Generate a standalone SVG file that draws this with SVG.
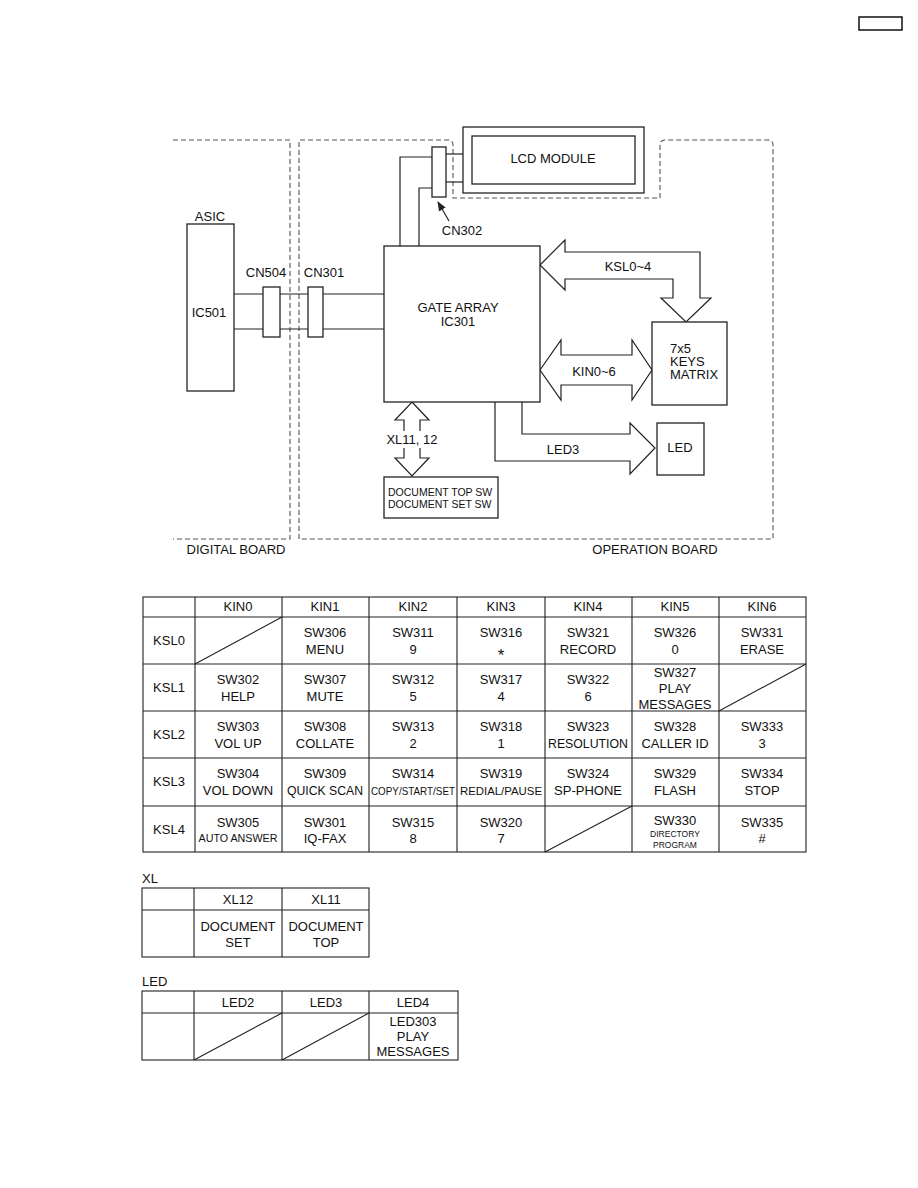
<svg xmlns="http://www.w3.org/2000/svg" width="918" height="1188" viewBox="0 0 918 1188">
<style>
text{font-family:"Liberation Sans",Arial,sans-serif;fill:#111;font-size:13px}
.c{text-anchor:middle}
.s{font-size:10.5px}
.xs{font-size:8.5px}
.box{fill:#fff;stroke:#222;stroke-width:1.3}
.ln{fill:none;stroke:#222;stroke-width:1.2}
.dash{fill:none;stroke:#555;stroke-width:1.1;stroke-dasharray:5,3}
.arr{fill:#fff;stroke:#222;stroke-width:1.2;stroke-linejoin:miter}
.grid{fill:none;stroke:#222;stroke-width:1.1}
</style>
<defs>
<marker id="ah" viewBox="0 0 10 10" refX="9" refY="5" markerWidth="8" markerHeight="8" orient="auto">
<path d="M0,1 L10,5 L0,9 Z" fill="#222"/>
</marker>
</defs>
<rect width="918" height="1188" fill="#fff"/>
<rect x="859" y="17" width="43" height="13" fill="none" stroke="#111" stroke-width="1.5"/>

<g id="boards">
<path class="dash" d="M173,140 H290 V539 H173"/>
<path class="dash" d="M299,539 V140 H448 Q453,140 453,145 V198 H660 V145 Q660,140 665,140 H768 Q773,140 773,145 V539 Z"/>
<text x="236" y="554" class="c">DIGITAL BOARD</text>
<text x="655" y="554" class="c">OPERATION BOARD</text>
</g>

<g id="connectors">
<line class="ln" x1="234" y1="294" x2="384" y2="294"/>
<line class="ln" x1="234" y1="329" x2="384" y2="329"/>
<polyline class="ln" points="400,246 400,157 432,157"/>
<polyline class="ln" points="419,246 419,188 432,188"/>
<line class="ln" x1="446" y1="154" x2="463" y2="154"/>
<line class="ln" x1="446" y1="182" x2="463" y2="182"/>
<line class="ln" x1="449" y1="221" x2="438" y2="202" marker-end="url(#ah)"/>
<path class="arr" d="M540,265 L565,240 V252 H700 V298 H711 L686,322 L661,298 H673 V279 H565 V290 Z"/>
<text x="628" y="271" class="c">KSL0~4</text>
<path class="arr" d="M540,370 L561,340 V355 H632 V340 L652,370 L632,400 V385 H561 V400 Z"/>
<text x="594" y="376" class="c">KIN0~6</text>
<path class="arr" d="M522,402 V434 H630 V423 L655,448 L630,474 V461 H495 V402"/>
<text x="563" y="454" class="c">LED3</text>
<path class="arr" d="M412,402 L429,420 H420 V458 H429 L412,476 L395,458 H404 V420 H395 Z"/>
<rect x="392" y="431" width="42" height="17" fill="#fff"/>
<text x="412" y="444" class="c">XL11, 12</text>
</g>

<g id="asic">
<text x="210" y="221" class="c">ASIC</text>
<rect class="box" x="187" y="224" width="47" height="167"/>
<text x="209" y="317" class="c">IC501</text>
</g>
<g id="cn504">
<rect class="box" x="263" y="287" width="17" height="50"/>
<text x="266" y="277" class="c">CN504</text>
</g>
<g id="cn301">
<rect class="box" x="308" y="287" width="15" height="50"/>
<text x="324" y="277" class="c">CN301</text>
</g>
<g id="cn302">
<rect class="box" x="432" y="147" width="14" height="50"/>
<text x="462" y="235" class="c">CN302</text>
</g>
<g id="lcd">
<rect class="box" x="463" y="127" width="181" height="66"/>
<rect class="box" x="472" y="136" width="163" height="48"/>
<text x="553" y="163" class="c">LCD MODULE</text>
</g>
<g id="gate-array">
<rect class="box" x="384" y="246" width="156" height="156"/>
<text x="458" y="312" class="c">GATE ARRAY</text>
<text x="458" y="326" class="c">IC301</text>
</g>
<g id="keys-matrix">
<rect class="box" x="652" y="322" width="75" height="83"/>
<text x="670" y="353">7x5</text>
<text x="670" y="366">KEYS</text>
<text x="670" y="379">MATRIX</text>
</g>
<g id="led">
<rect class="box" x="657" y="423" width="47" height="52"/>
<text x="680" y="452" class="c">LED</text>
</g>
<g id="doc-sw">
<rect class="box" x="384" y="477" width="114" height="41"/>
<text x="388" y="496" class="s">DOCUMENT TOP SW</text>
<text x="388" y="508" class="s">DOCUMENT SET SW</text>
</g>

<g id="key-table">
<rect class="grid" x="143" y="597" width="663" height="255"/>
<path class="grid" d="M143,617 H806 M143,664 H806 M143,711 H806 M143,758 H806 M143,806 H806
M195,597 V852 M282,597 V852 M369,597 V852 M457,597 V852 M545,597 V852 M632,597 V852 M719,597 V852"/>
<path class="grid" d="M195,664 L282,617 M719,711 L806,664 M545,852 L632,806"/>
<g>
<text x="238" y="611" class="c">KIN0</text><text x="325" y="611" class="c">KIN1</text><text x="413" y="611" class="c">KIN2</text><text x="501" y="611" class="c">KIN3</text><text x="588" y="611" class="c">KIN4</text><text x="675" y="611" class="c">KIN5</text><text x="762" y="611" class="c">KIN6</text>
<text x="169" y="645" class="c">KSL0</text><text x="169" y="692" class="c">KSL1</text><text x="169" y="739" class="c">KSL2</text><text x="169" y="786" class="c">KSL3</text><text x="169" y="834" class="c">KSL4</text>

<text x="325" y="637" class="c">SW306</text><text x="325" y="654" class="c">MENU</text>
<text x="413" y="637" class="c">SW311</text><text x="413" y="654" class="c">9</text>
<text x="501" y="637" class="c">SW316</text><text x="501" y="661" class="c" style="font-size:17px">*</text>
<text x="588" y="637" class="c">SW321</text><text x="588" y="654" class="c">RECORD</text>
<text x="675" y="637" class="c">SW326</text><text x="675" y="654" class="c">0</text>
<text x="762" y="637" class="c">SW331</text><text x="762" y="654" class="c">ERASE</text>

<text x="238" y="684" class="c">SW302</text><text x="238" y="701" class="c">HELP</text>
<text x="325" y="684" class="c">SW307</text><text x="325" y="701" class="c">MUTE</text>
<text x="413" y="684" class="c">SW312</text><text x="413" y="701" class="c">5</text>
<text x="501" y="684" class="c">SW317</text><text x="501" y="701" class="c">4</text>
<text x="588" y="684" class="c">SW322</text><text x="588" y="701" class="c">6</text>
<text x="675" y="677" class="c">SW327</text><text x="675" y="693" class="c">PLAY</text><text x="675" y="709" class="c">MESSAGES</text>

<text x="238" y="731" class="c">SW303</text><text x="238" y="748" class="c">VOL UP</text>
<text x="325" y="731" class="c">SW308</text><text x="325" y="748" class="c">COLLATE</text>
<text x="413" y="731" class="c">SW313</text><text x="413" y="748" class="c">2</text>
<text x="501" y="731" class="c">SW318</text><text x="501" y="748" class="c">1</text>
<text x="588" y="731" class="c">SW323</text><text x="588" y="748" class="c" textLength="80" lengthAdjust="spacingAndGlyphs">RESOLUTION</text>
<text x="675" y="731" class="c">SW328</text><text x="675" y="748" class="c">CALLER ID</text>
<text x="762" y="731" class="c">SW333</text><text x="762" y="748" class="c">3</text>

<text x="238" y="778" class="c">SW304</text><text x="238" y="795" class="c">VOL DOWN</text>
<text x="325" y="778" class="c">SW309</text><text x="325" y="795" class="c" textLength="76" lengthAdjust="spacingAndGlyphs">QUICK SCAN</text>
<text x="413" y="778" class="c">SW314</text><text x="413" y="795" class="c s" textLength="84" lengthAdjust="spacingAndGlyphs">COPY/START/SET</text>
<text x="501" y="778" class="c">SW319</text><text x="501" y="795" class="c s" textLength="82" lengthAdjust="spacingAndGlyphs">REDIAL/PAUSE</text>
<text x="588" y="778" class="c">SW324</text><text x="588" y="795" class="c">SP-PHONE</text>
<text x="675" y="778" class="c">SW329</text><text x="675" y="795" class="c">FLASH</text>
<text x="762" y="778" class="c">SW334</text><text x="762" y="795" class="c">STOP</text>

<text x="238" y="827" class="c">SW305</text><text x="238" y="842" class="c s" textLength="79" lengthAdjust="spacingAndGlyphs">AUTO ANSWER</text>
<text x="325" y="827" class="c">SW301</text><text x="325" y="843" class="c">IQ-FAX</text>
<text x="413" y="827" class="c">SW315</text><text x="413" y="843" class="c">8</text>
<text x="501" y="827" class="c">SW320</text><text x="501" y="843" class="c">7</text>
<text x="675" y="825" class="c">SW330</text><text x="675" y="837" class="c xs">DIRECTORY</text><text x="675" y="848" class="c xs">PROGRAM</text>
<text x="762" y="827" class="c">SW335</text><text x="762" y="843" class="c">#</text>
</g>
</g>

<g id="xl-table">
<text x="142" y="883">XL</text>
<rect class="grid" x="142" y="888" width="227" height="69"/>
<path class="grid" d="M142,910 H369 M194,888 V957 M282,888 V957"/>
<text x="238" y="904" class="c">XL12</text><text x="326" y="904" class="c">XL11</text>
<text x="238" y="931" class="c">DOCUMENT</text><text x="238" y="947" class="c">SET</text>
<text x="326" y="931" class="c">DOCUMENT</text><text x="326" y="947" class="c">TOP</text>
</g>

<g id="led-table">
<text x="142" y="986">LED</text>
<rect class="grid" x="142" y="991" width="316" height="69"/>
<path class="grid" d="M142,1013 H458 M194,991 V1060 M282,991 V1060 M369,991 V1060"/>
<path class="grid" d="M194,1060 L282,1013 M282,1060 L369,1013"/>
<text x="238" y="1007" class="c">LED2</text><text x="326" y="1007" class="c">LED3</text><text x="413" y="1007" class="c">LED4</text>
<text x="413" y="1026" class="c">LED303</text><text x="413" y="1041" class="c">PLAY</text><text x="413" y="1056" class="c">MESSAGES</text>
</g>
</svg>
